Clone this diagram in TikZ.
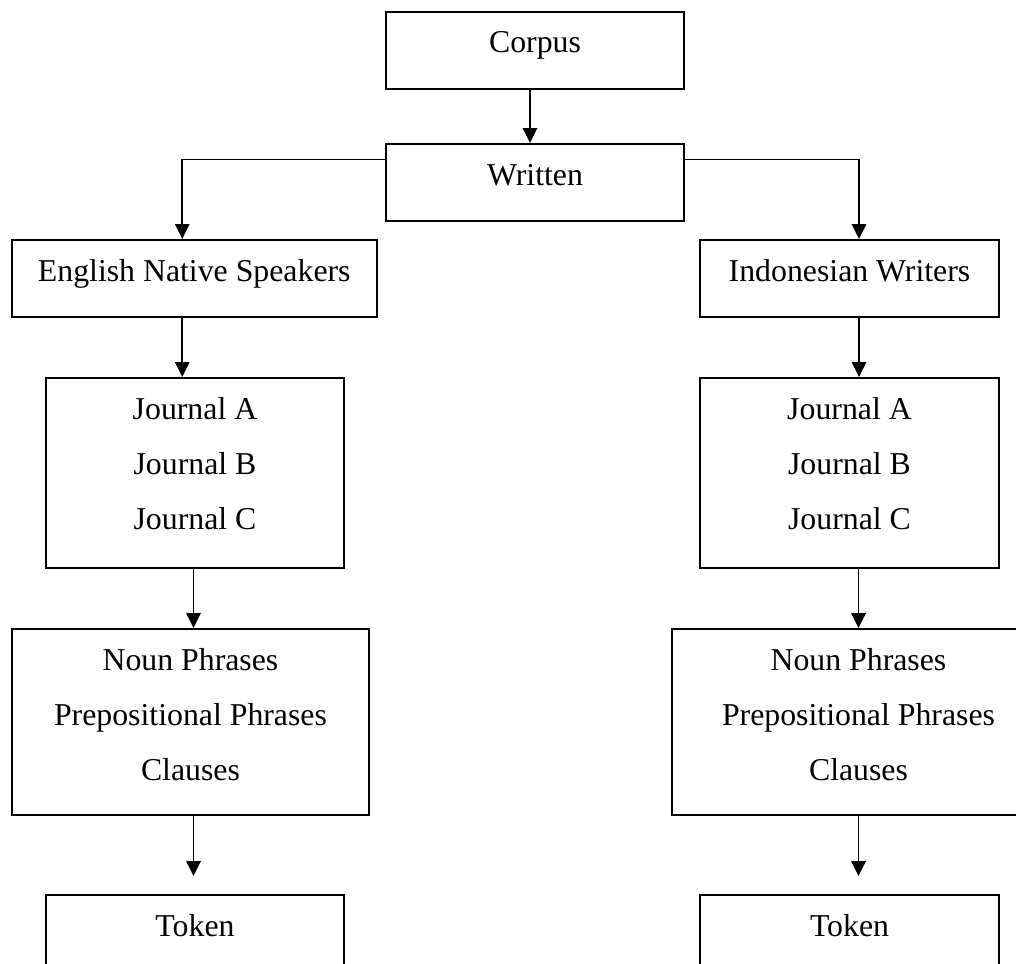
\documentclass[tikz,border=0pt]{standalone}
\usepackage{fontspec}
\setmainfont{Liberation Serif}
\usetikzlibrary{arrows.meta}

\newcommand{\stacklines}[1]{\begin{tabular}[t]{@{}c@{}}#1\end{tabular}}

\begin{document}
\begin{tikzpicture}[
x=0.5pt,
y=-0.5pt,
box/.style={
  draw,
  line width=1pt,
  anchor=north west,
  inner sep=0pt,
  font=\fontsize{15.9pt}{27.5pt}\selectfont,
  text height=20.5pt,
  text depth=18pt
  },
flow/.style={
  ->,
  line width=0.9pt
  },
>={Triangle[length=7.5pt,width=7.25pt]}
]
\useasboundingbox (0,0) rectangle (1016,963);
\clip (0,0) rectangle (1016,963);

\node[box, minimum width=149pt] (corpus) at (385,11) {Corpus};
\node[box, minimum width=149pt] (written) at (385,143) {Written};

\node[box, minimum width=182.25pt] (ens) at (11,239) {English Native Speakers};
\node[box, minimum width=149.5pt] (iw) at (699,239) {Indonesian Writers};

\node[box, minimum width=149pt, text depth=74.5pt] (jl) at (45,377)
  {\stacklines{Journal A\\Journal B\\Journal C}};
\node[box, minimum width=149.5pt, text depth=74.5pt] (jr) at (699,377)
  {\stacklines{Journal A\\Journal B\\Journal C}};

\node[box, minimum width=178.5pt, text depth=72.5pt] (nl) at (11,628)
  {\stacklines{Noun Phrases\\Prepositional Phrases\\Clauses}};
\node[box, minimum width=186.5pt, text depth=72.5pt] (nr) at (671,628)
  {\stacklines{Noun Phrases\\Prepositional Phrases\\Clauses}};

\node[box, minimum width=149pt] (tl) at (45,894) {Token};
\node[box, minimum width=149.5pt] (tr) at (699,894) {Token};

\draw[flow] ([xshift=-2.5pt]corpus.south) -- ([xshift=-2.5pt]written.north);
\draw[flow] ([yshift=11.5pt]written.west) -| ([xshift=-6pt]ens.north);
\draw[flow] ([yshift=11.5pt]written.east) -| ([xshift=4.75pt]iw.north);

\draw[flow] ([xshift=-6pt]ens.south) -- ([xshift=-6pt]ens.south |- jl.north);
\draw[flow] ([xshift=4.75pt]iw.south) -- ([xshift=4.75pt]iw.south |- jr.north);

\foreach \j/\n/\t/\dx in {jl/nl/tl/-0.75pt, jr/nr/tr/4.5pt}{
  \draw[flow] ([xshift=\dx]\j.south) -- ([xshift=\dx]\j.south |- \n.north);
  \draw[flow, shorten >=9pt] ([xshift=\dx]\t.north |- \n.south) -- ([xshift=\dx]\t.north);
}

\end{tikzpicture}
\end{document}
